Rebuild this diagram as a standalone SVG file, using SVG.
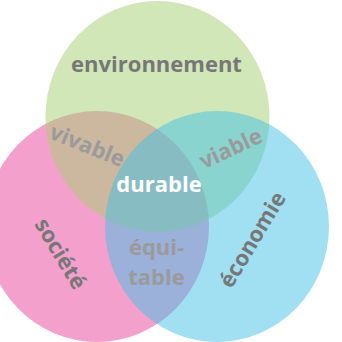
<svg xmlns="http://www.w3.org/2000/svg" width="342" height="342" viewBox="0 0 342 342">
<style>
.c{opacity:0.5}
.t{font-family:"Open Sans","DejaVu Sans",sans-serif;font-weight:bold;font-size:22px;text-anchor:middle}
.main{fill:#777777}
.sub{fill:#9a9a9c}
.w{fill:#ffffff}
</style>
<rect width="342" height="342" fill="#ffffff"/>
<g id="societe">
<ellipse class="c" cx="97" cy="226.5" rx="112" ry="115.5" fill="#e9419a"/>
</g>
<g id="environnement">
<ellipse class="c" cx="157.5" cy="116.5" rx="112" ry="115.5" fill="#a3cf71"/>
</g>
<g id="economie">
<ellipse class="c" cx="217" cy="226.5" rx="112" ry="115.5" fill="#41c1e5"/>
</g>
<g id="labels">
<text class="t main" x="156.5" y="72">environnement</text>
<text class="t w" x="159" y="192">durable</text>
<text class="t sub" transform="translate(87,146) rotate(22)" y="7">vivable</text>
<text class="t sub" transform="translate(231,149) rotate(-25)" y="7">viable</text>
<text class="t main" transform="translate(60,254) rotate(59)" y="7">société</text>
<text class="t main" transform="translate(253,240) rotate(-59)" y="7">économie</text>
<text class="t sub" x="156.5" y="255">équi-</text>
<text class="t sub" x="156.5" y="285">table</text>
</g>
</svg>
